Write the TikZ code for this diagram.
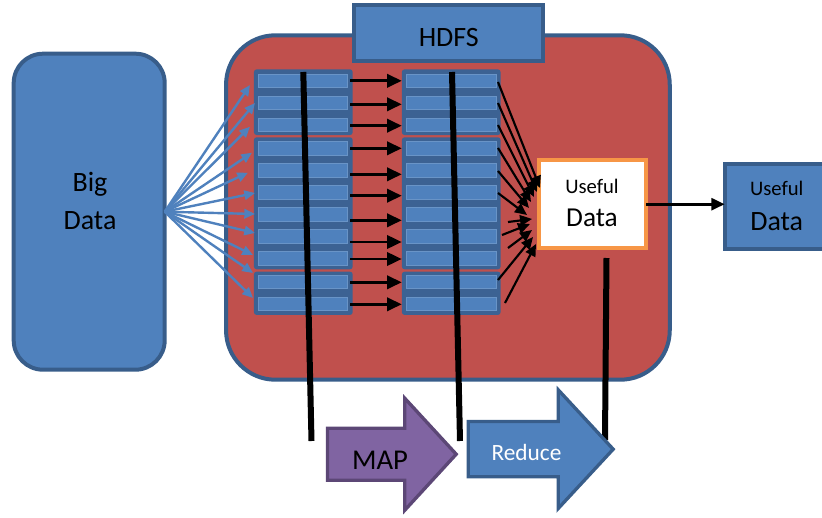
\documentclass[tikz,border=0pt]{standalone}
\usepackage{fontspec}
\setmainfont{Carlito}
\usetikzlibrary{arrows.meta}
\definecolor{bluefill}{HTML}{4F81BD}
\definecolor{blueedge}{HTML}{385D8A}
\definecolor{redfill}{HTML}{C0504D}
\definecolor{groupfill}{HTML}{3C6293}
\definecolor{barfill}{HTML}{4F81BD}
\definecolor{orangeedge}{HTML}{F79646}
\definecolor{purplefill}{HTML}{8064A2}
\definecolor{purpleedge}{HTML}{5C4776}
\newcommand\pxl{0.75pt}
\begin{document}
\begin{tikzpicture}[x=0.75pt,y=-0.75pt,
  panel/.style={draw=blueedge, fill=bluefill, line width=3pt, inner sep=0pt, outer sep=0pt},
  cluster/.style={draw=blueedge, fill=redfill, line width=3pt, inner sep=0pt, outer sep=0pt, rounded corners=37pt},
  result/.style={draw=orangeedge, fill=white, line width=3pt, inner sep=0pt, outer sep=0pt},
  blockgroup/.style={fill=groupfill, rounded corners=2pt, inner sep=0pt, outer sep=0pt, minimum width=98.7*\pxl},
  blockbar/.style={fill=barfill, draw=barfill!85!white, line width=0.5pt, inner sep=0pt, outer sep=0pt, minimum width=89*\pxl, minimum height=13.3*\pxl},
  lbl/.style={anchor=base, inner sep=0pt},
  feed/.style={draw=bluefill, line width=1.8pt, -{Triangle[length=8pt,width=7pt]}},
  pass/.style={draw=black, line width=2pt, -{Triangle[length=11pt,width=10pt]}},
  merge/.style={draw=black, line width=1.6pt, -{Triangle[length=9pt,width=8pt]}},
  phaseline/.style={draw=black, line width=4.5pt},
  bigfont/.style={font=\fontsize{21}{25}\selectfont},
  smallfont/.style={font=\fontsize{15.5}{19}\selectfont}
]
\useasboundingbox (0,0) rectangle (822,518);

% cluster background and HDFS tab
\node[cluster, minimum width=443.7*\pxl, minimum height=344.4*\pxl] (hadoop) at (447.9,207.5) {};
\node[panel, minimum width=189.3*\pxl, minimum height=56*\pxl] (hdfs) at (448.3,33.3) {};
\node[lbl, bigfont] (hdfstxt) at (448.8,46) {HDFS};

% input data store
\node[panel, rounded corners=22pt, minimum width=151*\pxl, minimum height=316*\pxl] (big) at (89.2,211.7) {};
\node[lbl, bigfont] (bigtxt1) at (90,191.7) {Big};
\node[lbl, bigfont] (bigtxt2) at (90,229.3) {Data};

% block groups (left = input splits, right = map outputs)
\foreach \col/\cx in {L/303.3, R/451.2} {
  \node[blockgroup, minimum height=65.7*\pxl] (\col g1) at (\cx,102.2) {};
  \node[blockgroup, minimum height=132*\pxl] (\col g2) at (\cx,203.3) {};
  \node[blockgroup, minimum height=43.3*\pxl] (\col g3) at (\cx,293.3) {};
}
\foreach \i/\ry in {1/80.8, 2/102.5, 3/124.5, 4/148.3, 5/170.2, 6/192.2,
                    7/214.3, 8/236.3, 9/258.3, 10/281.7, 11/303.7} {
  \node[blockbar] (L\i) at (303.2,\ry) {};
  \node[blockbar, minimum width=90*\pxl] (R\i) at (451.7,\ry) {};
}

% result box inside the cluster
\node[result, minimum width=107.6*\pxl, minimum height=87.7*\pxl] (use) at (592.5,204.2) {};
\node[lbl, smallfont] (usetxt1) at (592,193.3) {Useful};
\node[lbl, bigfont, font=\fontsize{20.5}{24}\selectfont] (usetxt2) at (592,226) {Data};

% exported result
\node[panel, minimum width=105.3*\pxl, minimum height=85*\pxl] (out) at (777.3,206.2) {};
\node[lbl, smallfont] (outtxt1) at (776.7,195) {Useful};
\node[lbl, bigfont] (outtxt2) at (776.7,230) {Data};

% split distribution from the data store
\foreach \i/\tx/\ty in {1/-8.7/4.2, 2/-3.7/0.5, 3/-8.7/2.2, 4/-6.7/4.4, 5/-10.7/2.5,
                        6/-3.7/0.8, 7/-3.7/-0.3, 8/-3.7/-3.3, 9/-5.7/-3.3,
                        10/-5.7/-8.7, 11/-5.7/-5.7} {
  \draw[feed] (big.east) -- ([shift={(\tx,\ty)}]L\i.west);
}

% map step: block to block
\foreach \i/\dy in {1/0, 2/1.8, 3/1.2, 4/0, 5/4.1, 6/3.5, 7/6, 8/5.7, 9/0.7, 10/0.6, 11/0.6} {
  \draw[pass] ([shift={(2.5,\dy)}]L\i.east) -- ([shift={(-5,\dy)}]R\i.west);
}

% reduce step: map outputs into the result
\foreach \i/\sx/\sy/\tx/\ty in {1/1.3/1.2/1.3/-16.2, 2/1.3/0.5/-1.7/-12.2,
    3/1.3/0.5/-4.7/-7.2, 4/1.3/-0.3/-7.7/-2.2, 5/1.3/0.8/-9.7/3.8,
    6/1.3/0.8/-11.7/10.8, 7/11.3/7.7/-6.7/14.8, 8/5.3/-1.3/-8.7/19.8,
    9/11.3/-10.3/-6.7/25.8, 10/1.3/-1.7/-5.7/32.8, 11/8.3/-0.7/-2.7/39.8} {
  \draw[merge] ([shift={(\sx,\sy)}]R\i.east) -- ([shift={(\tx,\ty)}]use.west);
}

% export arrow
\draw[draw=black, line width=2pt, -{Triangle[length=10pt,width=9pt]}]
  (use.east) -- (use.east -| out.west);

% phase markers
\coordinate (p1a) at (303.3,72);  \coordinate (p1b) at (311.5,441);
\coordinate (p2a) at (452,72);    \coordinate (p2b) at (460,441);
\coordinate (p3a) at (606.5,258); \coordinate (p3b) at (605,440);
\draw[phaseline] (p1a) -- (p1b);
\draw[phaseline] (p2a) -- (p2b);
\draw[phaseline] (p3a) -- (p3b);

% MAP and Reduce block arrows
\draw[fill=purplefill, draw=purpleedge, line width=2.5pt, line join=miter]
  (327.5,428.2) -- (404.8,428.2) -- (404.8,398.3) -- (456.2,454.2)
  -- (404.8,510.2) -- (404.8,480.2) -- (327.5,480.2) -- cycle;
\node[lbl, font=\fontsize{21.5}{25}\selectfont] (maptxt) at (380,469.3) {MAP};
\draw[fill=bluefill, draw=blueedge, line width=2.5pt, line join=miter]
  (468.2,421.5) -- (558.2,421.5) -- (558.2,389.8) -- (613.2,449.2)
  -- (558.2,508.5) -- (558.2,476.8) -- (468.2,476.8) -- cycle;
\node[lbl, text=white, font=\fontsize{17.5}{21}\selectfont] (redtxt) at (526.5,460) {Reduce};
\end{tikzpicture}
\end{document}
